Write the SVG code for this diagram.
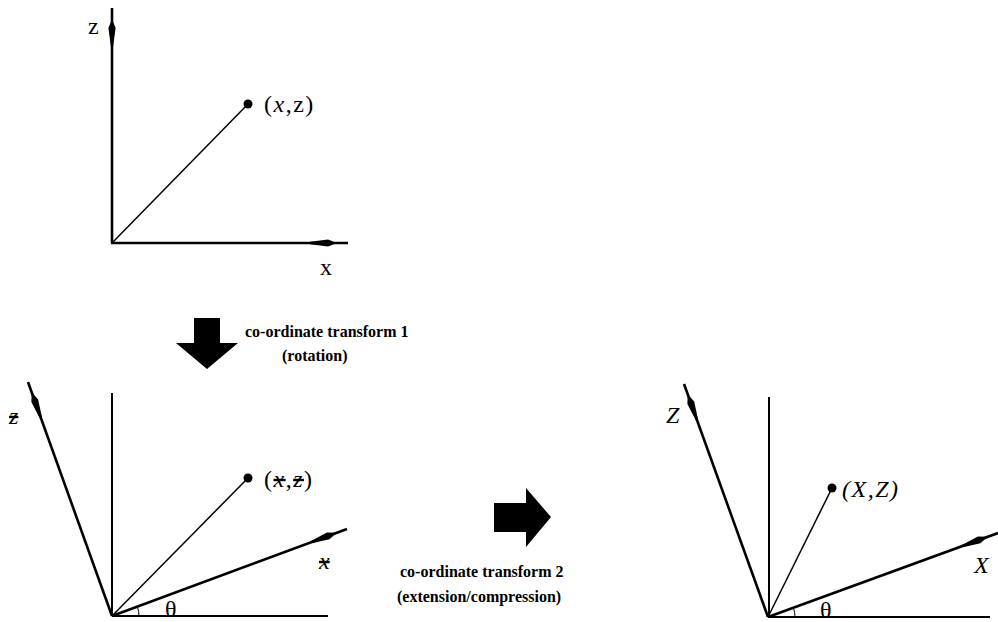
<svg xmlns="http://www.w3.org/2000/svg" width="998" height="622" viewBox="0 0 998 622">
  <defs>
    <marker id="ah" markerUnits="userSpaceOnUse" viewBox="-40 -5 45 10" markerWidth="45" markerHeight="10" refX="0" refY="0" orient="auto" overflow="visible">
      <path d="M-38,-1.2 L-20,-3.6 L-11,0 L-20,3.6 L-38,1.2 Z" fill="#000"/>
    </marker>
    <style>
      .ax{stroke:#000;stroke-width:2.6;fill:none}
      .thin{stroke:#000;stroke-width:1.5;fill:none}
      .ref{stroke:#000;stroke-width:2;fill:none}
      .arc{stroke:#000;stroke-width:1;fill:none}
      .lbl{font-family:"Liberation Serif","Times New Roman",serif;font-size:24px;fill:#000}
      .pt{letter-spacing:1.5px}
      .it{font-style:italic}
      .strike{text-decoration:line-through}
      .cap{font-family:"Liberation Serif","Times New Roman",serif;font-size:16px;font-weight:bold;fill:#000}
    </style>
  </defs>

  <g id="panel1">
    <line class="ax" x1="112" y1="243" x2="112" y2="8" marker-end="url(#ah)"/>
    <line class="ax" x1="111" y1="243" x2="348" y2="243" marker-end="url(#ah)"/>
    <line class="thin" x1="112" y1="243" x2="248" y2="104"/>
    <circle cx="248" cy="104" r="4.5" fill="#000"/>
    <text class="lbl" x="88" y="34">z</text>
    <text class="lbl" x="320" y="275">x</text>
    <text class="lbl pt" x="264" y="112">(<tspan class="it">x</tspan>,z)</text>
  </g>

  <g id="arrow1">
    <polygon points="194,318 220,318 220,343 238,343 207,369 176,343 194,343" fill="#000"/>
    <text class="cap" x="245" y="337">co-ordinate transform 1</text>
    <text class="cap" x="282" y="361">(rotation)</text>
  </g>

  <g id="panel2">
    <line class="ref" x1="112" y1="616" x2="112" y2="393"/>
    <line class="ref" x1="112" y1="616" x2="328" y2="616"/>
    <line class="ax" x1="112" y1="616" x2="28" y2="382" marker-end="url(#ah)"/>
    <line class="ax" x1="112" y1="616" x2="347" y2="529" marker-end="url(#ah)"/>
    <line class="thin" x1="112" y1="616" x2="248" y2="478"/>
    <circle cx="248" cy="478" r="4.5" fill="#000"/>
    <path class="arc" d="M139,616 A27,27 0 0,0 137.4,606.8"/>
    <text class="lbl" x="165" y="617">θ</text>
    <text class="lbl it strike" x="9" y="424">z</text>
    <text class="lbl it strike" x="319" y="569">x</text>
    <text class="lbl pt" x="264" y="487">(<tspan class="it strike">x</tspan>,<tspan class="it strike">z</tspan>)</text>
  </g>

  <g id="arrow2">
    <polygon points="494,503 526,503 526,488 551,517 526,547 526,532 494,532" fill="#000"/>
    <text class="cap" x="400" y="577">co-ordinate transform 2</text>
    <text class="cap" x="397" y="602">(extension/compression)</text>
  </g>

  <g id="panel3">
    <line class="ref" x1="769" y1="617" x2="769" y2="397"/>
    <line class="ref" x1="768" y1="617" x2="990" y2="617"/>
    <line class="ax" x1="768" y1="617" x2="684" y2="384" marker-end="url(#ah)"/>
    <line class="ax" x1="768" y1="617" x2="998" y2="533" marker-end="url(#ah)"/>
    <line class="thin" x1="768" y1="617" x2="832" y2="488"/>
    <circle cx="832" cy="488" r="4.5" fill="#000"/>
    <path class="arc" d="M795,617 A27,27 0 0,0 793.4,607.8"/>
    <text class="lbl" x="820" y="618">θ</text>
    <text class="lbl it" x="666" y="423">Z</text>
    <text class="lbl it" x="974" y="573">X</text>
    <text class="lbl it pt" x="842" y="497">(X,Z)</text>
  </g>
</svg>
